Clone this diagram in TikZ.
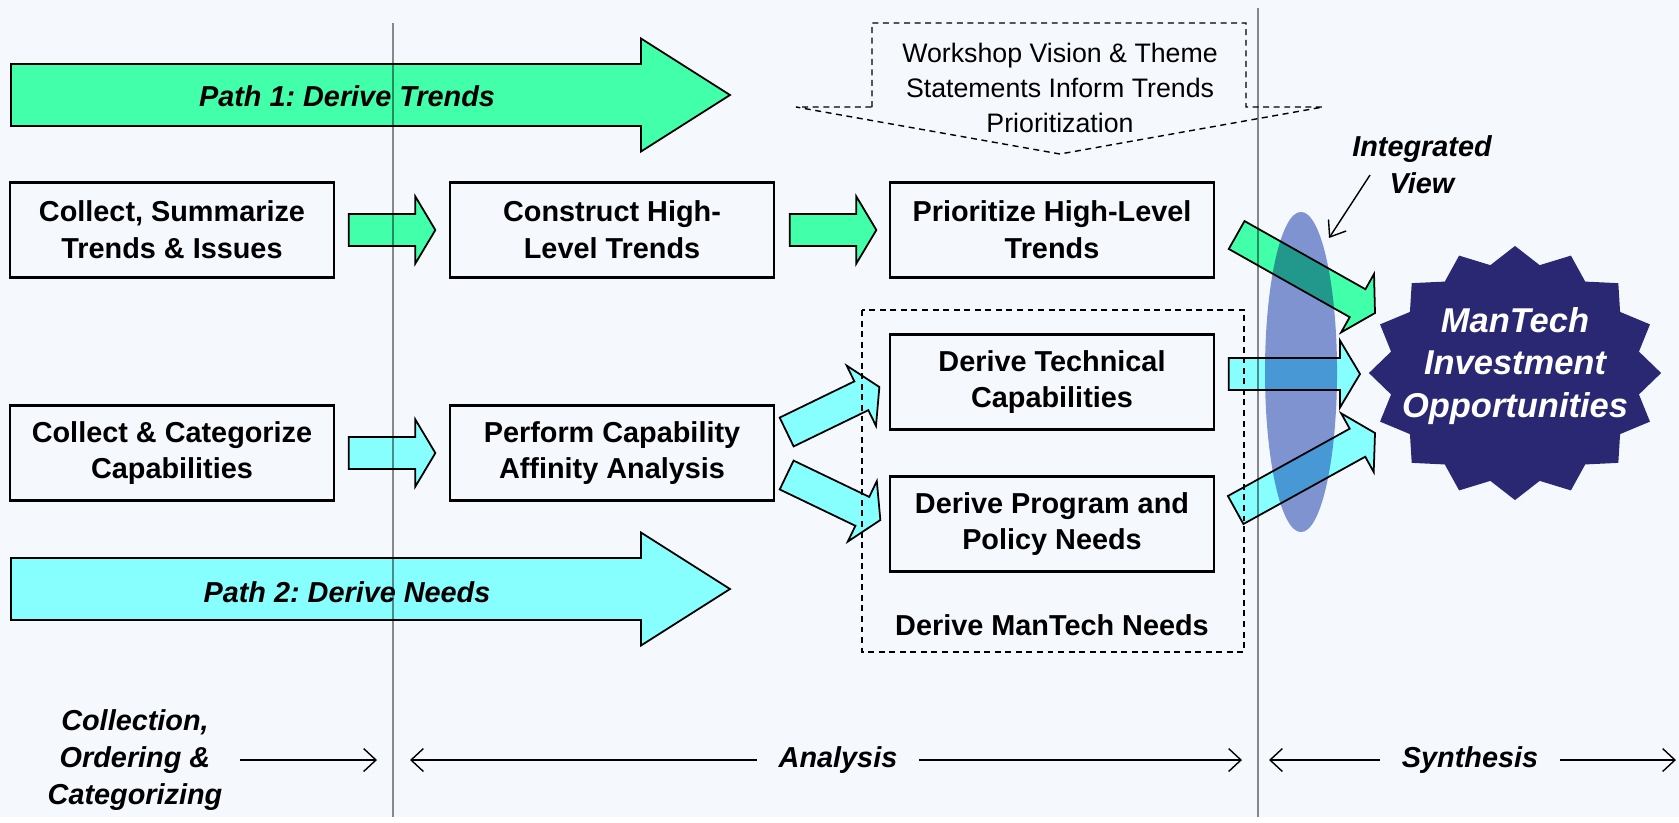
\documentclass[tikz,border=0pt]{standalone}
\usepackage{fontspec}
\setmainfont{Liberation Sans}
\usetikzlibrary{calc, shapes.geometric, arrows.meta}
\frenchspacing

\definecolor{paper}{RGB}{245,248,252}
\definecolor{trendgreen}{RGB}{66,255,170}
\definecolor{needcyan}{RGB}{136,255,255}
\definecolor{mantechblue}{RGB}{42,40,115}
\definecolor{viewblue}{RGB}{134,152,212}

\tikzset{ box/.style = { draw
                       , line width    = 0.6pt
                       , minimum width = 3.23cm
                       , minimum height = 0.95cm
                       , align = center
                       , font  = \fontsize{8.2}{10.5}\selectfont\bfseries
                       },
          trend/.style = { draw = black
                         , line width = 0.5pt
                         , fill = trendgreen
                         },
          need/.style = { draw = black
                        , line width = 0.5pt
                        , fill = needcyan
                        },
          tag/.style = { align = center
                       , font  = \fontsize{8.2}{10.5}\selectfont\bfseries\itshape
                       },
          dashbox/.style = { draw = black
                           , line width   = 0.4pt
                           , dash pattern = on 1.7pt off 1.3pt
                           },
          span/.style = { line width = 0.8pt
                        , -{Straight Barb[length=3.5pt, width=6.5pt, line width=0.4pt]}
                        },
          pointer/.style = { line width = 0.4pt
                           , -{Straight Barb[length=4pt, width=6pt]}
                           },
          phase/.style = { draw = black
                         , draw opacity = 0.45
                         , line width   = 0.45pt
                         }
        }

% block arrow: style, tail, tip, half shaft, half head, head length
\newcommand{\fatarrow}[6]{%
  \draw[#1] let \p1 = #2, \p2 = #3,
                \n1 = {atan2(\y2-\y1,\x2-\x1)},
                \n2 = {veclen(\x2-\x1,\y2-\y1)} in
    ($(\p1)+(\n1+90:#4)$) -- ++(\n1:\n2-#6) -- ++(\n1+90:#5-#4) -- (\p2)
    -- ($(\p2)+(\n1+180:#6)+(\n1-90:#5)$) -- ++(\n1+90:#5-#4)
    -- ($(\p1)+(\n1-90:#4)$) -- cycle;}

\begin{document}
\begin{tikzpicture}[x=0.01cm, y=-0.01cm]
    \fill[paper] (0,0) rectangle (1679,817);

    % the two paths
    \coordinate (p1s) at (11,95);
    \coordinate (p1e) at (730,95);
    \coordinate (p2s) at (11,589);
    \coordinate (p2e) at (730,589);
    \fatarrow{trend}{(p1s)}{(p1e)}{0.31cm}{0.565cm}{0.89cm}
    \fatarrow{need}{(p2s)}{(p2e)}{0.31cm}{0.565cm}{0.89cm}
    \node[tag] (path1) at (347,96) {Path 1: Derive Trends};
    \node[tag] (path2) at (347,592) {Path 2: Derive Needs};

    \node[box] (A) at (172,230) {Collect, Summarize\\Trends \& Issues};
    \node[box] (B) at (612,230) {Construct High-\\Level Trends};
    \node[box] (C) at (1052,230) {Prioritize High-Level\\Trends};
    \node[box] (D) at (172,453) {Collect \& Categorize\\Capabilities};
    \node[box] (E) at (612,453) {Perform Capability\\Affinity Analysis};
    \node[box] (F) at (1052,382) {Derive Technical\\Capabilities};
    \node[box] (G) at (1052,524) {Derive Program and\\Policy Needs};

    % ManTech star
    \coordinate (starc) at (1515,373);
    \fill[mantechblue] ($(starc)+(90:1.46cm and 1.27cm)$)
        \foreach \k in {1,...,16} {
            -- ($(starc)+({90+22.5*\k-11.25}:1.263cm and 1.099cm)$)
            -- ($(starc)+({90+22.5*\k}:1.46cm and 1.27cm)$)
        } -- cycle;
    \node[font=\fontsize{9.8}{12.1}\selectfont\bfseries\itshape, text=white, align=center]
        (invest) at ($(starc)+(0,-7)$) {ManTech\\Investment\\Opportunities};

    % block arrows between the boxes
    \coordinate (ab1) at ($(A.east)+(14,0)$);
    \coordinate (ab2) at ($(B.west)+(-14,0)$);
    \coordinate (bc1) at ($(B.east)+(15,0)$);
    \coordinate (bc2) at ($(C.west)+(-13,0)$);
    \coordinate (de1) at ($(D.east)+(14,0)$);
    \coordinate (de2) at ($(E.west)+(-14,0)$);
    \coordinate (ef1) at ($(E.east)+(12,-21)$);
    \coordinate (ef2) at ($(F.west)+(-10,5)$);
    \coordinate (eg1) at ($(E.east)+(12,22)$);
    \coordinate (eg2) at ($(G.west)+(-9,-4)$);
    \coordinate (cs1) at ($(C.east)+(22,5)$);
    \coordinate (cs2) at ($(starc)+(-140,-60)$);
    \coordinate (fs1) at ($(F.east)+(14,-8)$);
    \coordinate (fs2) at ($(starc)+(-155,1)$);
    \coordinate (gs1) at ($(G.east)+(21,-14)$);
    \coordinate (gs2) at ($(starc)+(-140,60)$);
    \fatarrow{trend}{(ab1)}{(ab2)}{0.16cm}{0.335cm}{0.2cm}
    \fatarrow{trend}{(bc1)}{(bc2)}{0.16cm}{0.335cm}{0.2cm}
    \fatarrow{need}{(de1)}{(de2)}{0.16cm}{0.335cm}{0.2cm}
    \fatarrow{need}{(ef1)}{(ef2)}{0.16cm}{0.335cm}{0.2cm}
    \fatarrow{need}{(eg1)}{(eg2)}{0.16cm}{0.335cm}{0.2cm}
    \fatarrow{trend}{(cs1)}{(cs2)}{0.16cm}{0.335cm}{0.2cm}
    \fatarrow{need}{(fs1)}{(fs2)}{0.16cm}{0.335cm}{0.2cm}
    \fatarrow{need}{(gs1)}{(gs2)}{0.16cm}{0.335cm}{0.2cm}

    \begin{scope}[blend mode=multiply]
        \node[ellipse, fill=viewblue, inner sep=0pt, minimum width=0.72cm, minimum height=3.2cm]
            (view) at (1301,372) {};
    \end{scope}

    % workshop input and needs group
    \draw[dashbox] (872,107) -- (872,23) -- (1246,23) -- (1246,107) -- (1323,107)
        -- (1060,154) -- (796,107) -- cycle;
    \node[font=\fontsize{7.6}{10}\selectfont, align=center]
        (vision) at (1060,88) {Workshop Vision \& Theme\\Statements Inform Trends\\Prioritization};
    \draw[dashbox] (862,310) rectangle (1244,652);
    \node[font=\fontsize{8.2}{10.5}\selectfont\bfseries] (needs) at (1052,625) {Derive ManTech Needs};

    \draw[phase] (393,23) -- (393,817);
    \draw[phase] (1258,8) -- (1258,817);

    \node[tag] (ivlabel) at (1422,165) {Integrated\\View};
    \coordinate (ivtail) at ($(ivlabel)+(-52,10)$);
    \coordinate (ivtip) at ($(view)+(28,-134)$);
    \draw[pointer] (ivtail) -- (ivtip);

    % phases along the bottom
    \node[tag] (coll) at (135,760) {Collection,\\Ordering \&\\Categorizing};
    \node[tag, inner xsep=6pt] (analysis) at (838,760) {Analysis};
    \node[tag, inner xsep=6pt] (synth) at (1470,760) {Synthesis};
    \coordinate (collend) at (377,760);
    \coordinate (aleft) at (410,760);
    \coordinate (aright) at (1242,760);
    \coordinate (sleft) at (1269,760);
    \coordinate (sright) at (1676,760);
    \draw[span, shorten <=1.5pt] (coll.east) -- (collend);
    \draw[span] (analysis.west) -- (aleft);
    \draw[span] (analysis.east) -- (aright);
    \draw[span] (synth.west) -- (sleft);
    \draw[span] (synth.east) -- (sright);
\end{tikzpicture}
\end{document}
